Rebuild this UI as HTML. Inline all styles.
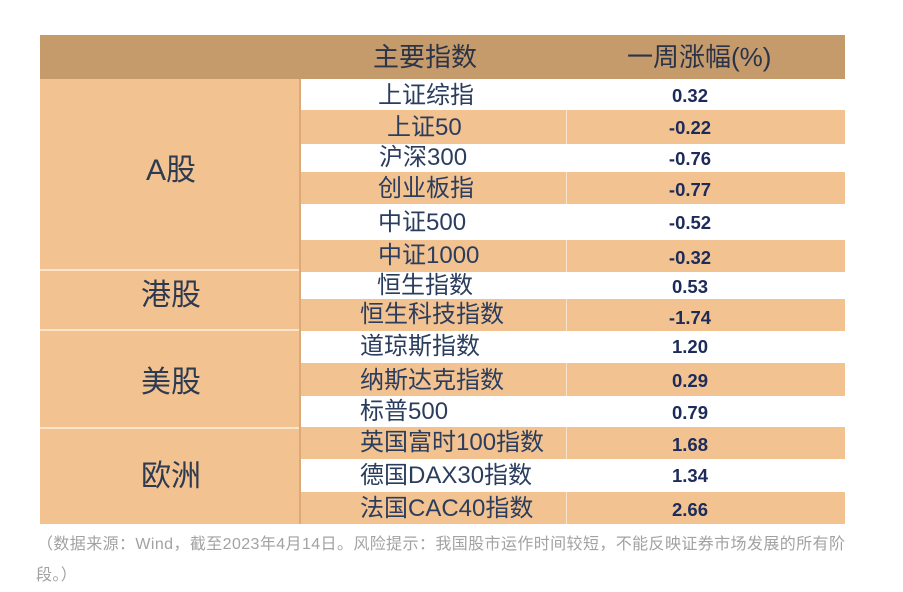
<!DOCTYPE html>
<html>
<head>
<meta charset="utf-8">
<style>
  html,body{margin:0;padding:0;background:#fff;}
  body{width:903px;height:592px;position:relative;overflow:hidden;
    font-family:"Liberation Sans","Noto Sans CJK SC",sans-serif;}
  .abs{position:absolute;}
  .hdr{left:40px;top:35px;width:805px;height:44px;background:#c59b6c;}
  .ht{position:absolute;top:35px;height:44px;line-height:44px;font-size:26px;color:#2a3348;white-space:nowrap;}
  .row{position:absolute;left:300px;width:545px;}
  .o{background:#f2c290;}
  .w{background:#ffffff;}
  .sep{position:absolute;left:566px;width:1px;background:#f9e3cc;}
  .grp{position:absolute;left:40px;width:260px;background:#f2c290;}
  .gl{position:absolute;left:40px;width:260px;height:2px;background:#fbe4cb;}
  .gt{position:absolute;left:40px;width:262px;text-align:center;font-size:30px;color:#2e3a50;white-space:nowrap;}
  .mt{position:absolute;font-size:24px;color:#2b3d5e;white-space:nowrap;}
  .v{position:absolute;left:640px;width:100px;text-align:center;font-size:18.5px;font-weight:bold;color:#1c2b5a;white-space:nowrap;}
  .vline{position:absolute;left:299px;top:79px;width:2px;height:445px;background:#dcaa78;}
  .foot{position:absolute;font-size:16px;color:#a2a2a2;white-space:nowrap;letter-spacing:0.4px;line-height:16px;}
</style>
</head>
<body>
  <!-- header -->
  <div class="abs hdr"></div>
  <div class="ht" style="left:373px;">主要指数</div>
  <div class="ht" style="left:627px;">一周涨幅(%)</div>

  <!-- rows background -->
  <div class="row w" style="top:79px;height:31px;"></div>
  <div class="row o" style="top:110px;height:34px;"></div>
  <div class="row w" style="top:144px;height:28px;"></div>
  <div class="row o" style="top:172px;height:32px;"></div>
  <div class="row w" style="top:204px;height:36px;"></div>
  <div class="row o" style="top:240px;height:32px;"></div>
  <div class="row w" style="top:272px;height:27px;"></div>
  <div class="row o" style="top:299px;height:32px;"></div>
  <div class="row w" style="top:331px;height:32px;"></div>
  <div class="row o" style="top:363px;height:33px;"></div>
  <div class="row w" style="top:396px;height:31px;"></div>
  <div class="row o" style="top:427px;height:32px;"></div>
  <div class="row w" style="top:459px;height:33px;"></div>
  <div class="row o" style="top:492px;height:32px;"></div>

  <!-- separators middle/right in orange rows -->
  <div class="sep" style="top:110px;height:34px;"></div>
  <div class="sep" style="top:172px;height:32px;"></div>
  <div class="sep" style="top:240px;height:32px;"></div>
  <div class="sep" style="top:299px;height:32px;"></div>
  <div class="sep" style="top:363px;height:33px;"></div>
  <div class="sep" style="top:427px;height:32px;"></div>
  <div class="sep" style="top:492px;height:32px;"></div>

  <!-- left group column -->
  <div class="grp" style="top:79px;height:445px;"></div>
  <div class="gl" style="top:269px;"></div>
  <div class="gl" style="top:329px;"></div>
  <div class="gl" style="top:427px;"></div>
  <div class="vline"></div>

  <div class="gt" style="top:151px;height:40px;line-height:40px;">A股</div>
  <div class="gt" style="top:276px;height:40px;line-height:40px;">港股</div>
  <div class="gt" style="top:363px;height:40px;line-height:40px;">美股</div>
  <div class="gt" style="top:457px;height:40px;line-height:40px;">欧洲</div>

  <!-- middle names -->
  <div class="mt" style="left:378px;top:79px;height:31px;line-height:33px;">上证综指</div>
  <div class="mt" style="left:387px;top:110px;height:34px;line-height:36px;">上证50</div>
  <div class="mt" style="left:379px;top:144px;height:28px;line-height:28px;">沪深300</div>
  <div class="mt" style="left:378px;top:172px;height:32px;line-height:34px;">创业板指</div>
  <div class="mt" style="left:378px;top:204px;height:36px;line-height:37px;">中证500</div>
  <div class="mt" style="left:378px;top:240px;height:32px;line-height:31px;">中证1000</div>
  <div class="mt" style="left:377px;top:272px;height:27px;line-height:27px;">恒生指数</div>
  <div class="mt" style="left:360px;top:299px;height:32px;line-height:32px;">恒生科技指数</div>
  <div class="mt" style="left:360px;top:331px;height:32px;line-height:32px;">道琼斯指数</div>
  <div class="mt" style="left:360px;top:363px;height:33px;line-height:36px;">纳斯达克指数</div>
  <div class="mt" style="left:360px;top:396px;height:31px;line-height:32px;">标普500</div>
  <div class="mt" style="left:360px;top:427px;height:32px;line-height:32px;">英国富时100指数</div>
  <div class="mt" style="left:360px;top:459px;height:33px;line-height:34px;">德国DAX30指数</div>
  <div class="mt" style="left:360px;top:492px;height:32px;line-height:34px;">法国CAC40指数</div>

  <!-- values -->
  <div class="v" style="top:79px;height:31px;line-height:33px;">0.32</div>
  <div class="v" style="top:110px;height:34px;line-height:35px;">-0.22</div>
  <div class="v" style="top:144px;height:28px;line-height:30px;">-0.76</div>
  <div class="v" style="top:172px;height:32px;line-height:36px;">-0.77</div>
  <div class="v" style="top:204px;height:36px;line-height:38px;">-0.52</div>
  <div class="v" style="top:240px;height:32px;line-height:35px;">-0.32</div>
  <div class="v" style="top:272px;height:27px;line-height:29px;">0.53</div>
  <div class="v" style="top:299px;height:32px;line-height:37px;">-1.74</div>
  <div class="v" style="top:331px;height:32px;line-height:32px;">1.20</div>
  <div class="v" style="top:363px;height:33px;line-height:36px;">0.29</div>
  <div class="v" style="top:396px;height:31px;line-height:33px;">0.79</div>
  <div class="v" style="top:427px;height:32px;line-height:36px;">1.68</div>
  <div class="v" style="top:459px;height:33px;line-height:34px;">1.34</div>
  <div class="v" style="top:492px;height:32px;line-height:35px;">2.66</div>

  <!-- footer -->
  <div class="foot" style="left:37px;top:537px;">（数据来源：Wind，截至2023年4月14日。风险提示：我国股市运作时间较短，不能反映证券市场发展的所有阶</div>
  <div class="foot" style="left:36px;top:568px;">段。）</div>
</body>
</html>
